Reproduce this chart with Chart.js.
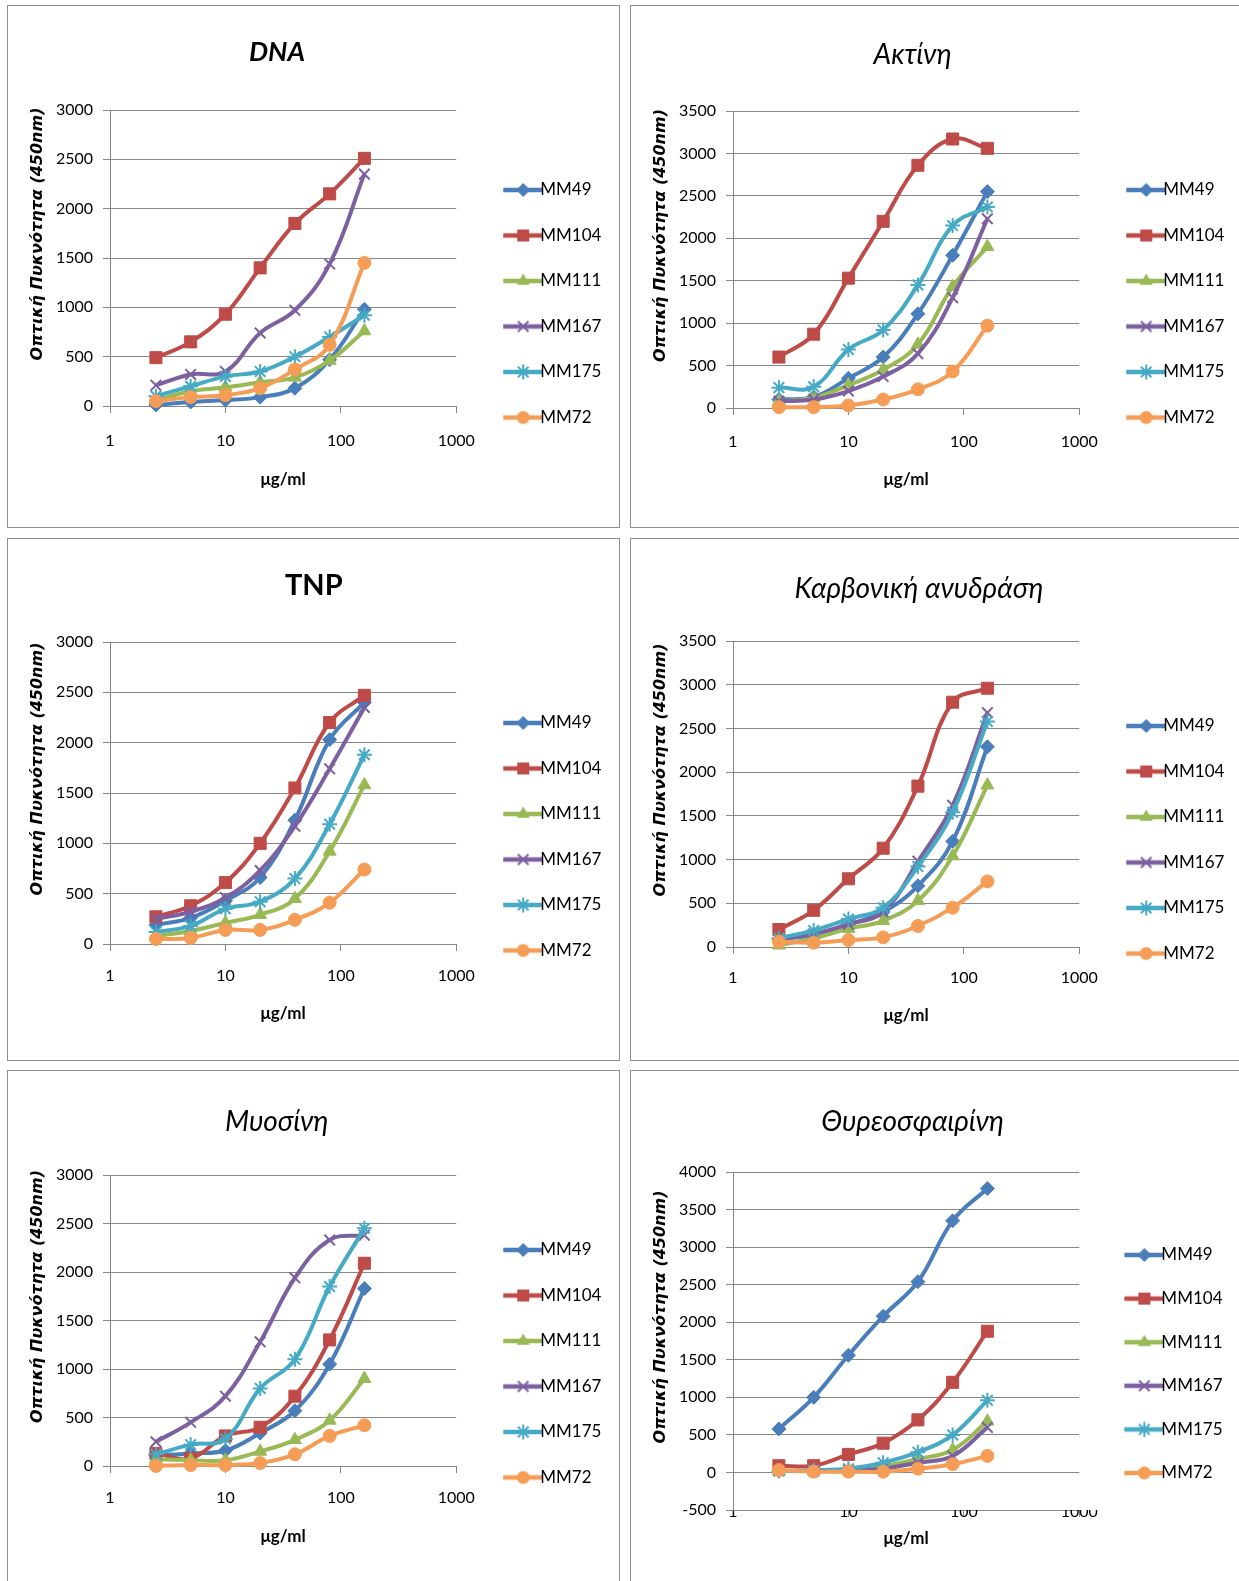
<!DOCTYPE html>
<html>
<head>
<meta charset="utf-8">
<script src="https://cdn.jsdelivr.net/npm/chart.js@4.4.1/dist/chart.umd.min.js"></script>
<style>
  body { margin: 0; background: #fff; width: 1239px; height: 1581px; position: relative; overflow: hidden; }
  canvas { position: absolute; }
  .frame { position: absolute; border: 1px solid #8f8f8f; box-sizing: border-box; pointer-events: none; }
</style>
</head>
<body>
<script>
// dose axis (μg/ml) and ticks
const doses = [2.5, 5, 10, 20, 40, 80, 160];
const xTicks = [1, 10, 100, 1000];
const seriesNames = ['MM49', 'MM104', 'MM111', 'MM167', 'MM175', 'MM72'];
const panelTitles = ['DNA', 'Ακτίνη', 'TNP', 'Καρβονική ανυδράση', 'Μυοσίνη', 'Θυρεοσφαιρίνη'];
const yTitle = 'Οπτική Πυκνότητα (450nm)';
const xTitle = 'μg/ml';
const yMin = [0, 0, 0, 0, 0, -500];
const yMax = [3000, 3500, 3000, 3500, 3000, 4000];

// one row per series, same order as seriesNames
const dnaValues = [
  [10, 40, 60, 90, 180, 470, 980],
  [490, 650, 930, 1400, 1850, 2150, 2510],
  [60, 150, 190, 240, 290, 460, 760],
  [210, 320, 350, 740, 970, 1440, 2350],
  [100, 200, 300, 350, 500, 700, 920],
  [50, 90, 110, 180, 370, 620, 1450]
];
const aktiniValues = [
  [100, 130, 350, 600, 1110, 1800, 2550],
  [600, 870, 1530, 2200, 2860, 3170, 3060],
  [80, 120, 270, 450, 750, 1430, 1900],
  [80, 100, 200, 370, 640, 1300, 2230],
  [240, 250, 690, 920, 1450, 2150, 2370],
  [10, 10, 30, 100, 220, 430, 970]
];
const tnpValues = [
  [190, 260, 430, 660, 1230, 2030, 2400],
  [270, 380, 610, 1000, 1550, 2200, 2470],
  [80, 130, 210, 290, 450, 920, 1580],
  [250, 320, 460, 730, 1170, 1740, 2350],
  [120, 180, 350, 420, 650, 1190, 1880],
  [50, 60, 140, 140, 240, 410, 740]
];
const karvValues = [
  [90, 140, 260, 400, 700, 1210, 2290],
  [200, 420, 780, 1130, 1840, 2800, 2960],
  [20, 100, 210, 300, 530, 1040, 1850],
  [90, 150, 260, 400, 980, 1620, 2680],
  [100, 190, 320, 450, 920, 1540, 2580],
  [60, 50, 80, 110, 240, 450, 750]
];
const myosiniValues = [
  [110, 130, 160, 340, 570, 1050, 1830],
  [130, 80, 310, 400, 720, 1300, 2090],
  [70, 60, 60, 150, 270, 470, 900],
  [250, 450, 720, 1280, 1940, 2330, 2380],
  [120, 220, 280, 800, 1100, 1850, 2450],
  [0, 10, 10, 30, 120, 310, 420]
];
const thyreoValues = [
  [580, 1000, 1560, 2080, 2540, 3350, 3780],
  [90, 90, 240, 390, 700, 1200, 1880],
  [20, 20, 30, 80, 180, 300, 680],
  [20, 20, 30, 50, 130, 220, 600],
  [20, 30, 50, 130, 270, 500, 960],
  [30, 10, 10, 10, 50, 110, 220]
];
const panelValues = [dnaValues, aktiniValues, tnpValues, karvValues, myosiniValues, thyreoValues];

// look
const colors = ['#4a7ebb', '#be4b48', '#98b954', '#7d60a0', '#46aac5', '#f59d56'];
const markers = ['rectRot', 'rect', 'triangle', 'crossRot', 'star', 'circle'];
const markerSize = [7, 8.5, 7.5, 7.5, 7.5, 6.5];
const font = 'Lato, sans-serif';
const gridColor = '#878787';

// layout of each panel (px, relative to the panel's top-left corner)
// shift: en spaces put before (+) or after (-) the title to nudge it sideways
const W = 612, H = 522;
const panels = [
  { left: 7,   top: 5,    plotTop: 105, plotBottom: 401, titleY: 47, legendY: 185, gap: 45.5, tickY: 436, xTitleY: 475, titleFull: false, bold: true,  italic: true,  size: 27, shift: -1 },
  { left: 630, top: 5,    plotTop: 106, plotBottom: 403, titleY: 50, legendY: 185, gap: 45.5, tickY: 437, xTitleY: 475, titleFull: false, bold: false, italic: true,  size: 28, shift: 1 },
  { left: 7,   top: 538,  plotTop: 104, plotBottom: 406, titleY: 48, legendY: 185, gap: 45.5, tickY: 438, xTitleY: 476, titleFull: true,  bold: true,  italic: false, size: 29, shift: 1 },
  { left: 630, top: 538,  plotTop: 103, plotBottom: 409, titleY: 51, legendY: 188, gap: 45.5, tickY: 440, xTitleY: 478, titleFull: false, bold: false, italic: true,  size: 28, shift: 2 },
  { left: 7,   top: 1070, plotTop: 105, plotBottom: 396, titleY: 52, legendY: 180, gap: 45.5, tickY: 428, xTitleY: 467, titleFull: false, bold: false, italic: true,  size: 28, shift: -1 },
  { left: 630, top: 1070, plotTop: 102, plotBottom: 440, titleY: 52, legendY: 185, gap: 43.6, tickY: 442, xTitleY: 469, titleFull: false, bold: false, italic: true,  size: 28, shift: 1 }
];

function drawMarker(g, style, x, y, r, color) {
  g.fillStyle = color;
  g.strokeStyle = color;
  g.lineWidth = 2;
  g.beginPath();
  if (style === 'rectRot') {
    g.moveTo(x, y - r); g.lineTo(x + r, y); g.lineTo(x, y + r); g.lineTo(x - r, y); g.closePath(); g.fill();
  } else if (style === 'rect') {
    const s = r * Math.SQRT1_2;
    g.rect(x - s, y - s, 2 * s, 2 * s); g.fill();
  } else if (style === 'triangle') {
    g.moveTo(x, y - r); g.lineTo(x + r * 0.866, y + r * 0.5); g.lineTo(x - r * 0.866, y + r * 0.5); g.closePath(); g.fill();
  } else if (style === 'circle') {
    g.arc(x, y, r, 0, Math.PI * 2); g.fill();
  } else {
    const d = r * Math.SQRT1_2;
    g.moveTo(x - d, y - d); g.lineTo(x + d, y + d);
    g.moveTo(x + d, y - d); g.lineTo(x - d, y + d);
    if (style === 'star') { g.moveTo(x, y - r); g.lineTo(x, y + r); g.moveTo(x - r, y); g.lineTo(x + r, y); }
    g.stroke();
  }
}

// legend symbol: line segment with the marker in the middle
const legendIcons = seriesNames.map((name, i) => {
  const c = document.createElement('canvas');
  c.width = 70; c.height = 20;
  const g = c.getContext('2d');
  g.strokeStyle = colors[i];
  g.lineWidth = 4.5;
  g.beginPath(); g.moveTo(30, 10); g.lineTo(70, 10); g.stroke();
  drawMarker(g, markers[i], 50, 10, markerSize[i], colors[i]);
  return c;
});

panels.forEach((p, k) => {
  const canvas = document.createElement('canvas');
  canvas.width = W; canvas.height = H;
  canvas.style.left = p.left + 'px';
  canvas.style.top = p.top + 'px';
  document.body.appendChild(canvas);
  const frame = document.createElement('div');
  frame.className = 'frame';
  Object.assign(frame.style, { left: p.left + 'px', top: p.top + 'px', width: (W + 1) + 'px', height: (H + 1) + 'px' });
  document.body.appendChild(frame);

  const titleLH = p.size * 1.2;
  const titleTop = p.titleY - titleLH / 2;
  const pad = '\u2002'.repeat(Math.abs(p.shift));
  const titleText = p.shift > 0 ? pad + panelTitles[k] : panelTitles[k] + pad;
  const legendFont = 17;
  const legendPad = p.gap - legendFont;
  const tickFont = 16, tickLen = 7;

  const datasets = seriesNames.map((name, i) => ({
    label: name,
    data: doses.map((d, j) => ({ x: d, y: panelValues[k][i][j] })),
    borderColor: colors[i],
    backgroundColor: colors[i],
    borderWidth: 4,
    tension: 0.4,
    pointStyle: markers[i],
    pointRadius: markerSize[i],
    pointBorderWidth: (markers[i] === 'crossRot' || markers[i] === 'star') ? 2 : 1,
    pointBackgroundColor: colors[i],
    pointBorderColor: colors[i],
    order: seriesNames.length - i,
    clip: 14
  }));

  new Chart(canvas, {
    type: 'line',
    data: { datasets },
    options: {
      responsive: false,
      animation: false,
      layout: { padding: { right: 13 } },
      plugins: {
        tooltip: { enabled: false },
        title: {
          display: true,
          text: titleText,
          fullSize: p.titleFull,
          color: '#000',
          font: { family: font, size: p.size, weight: p.bold ? 'bold' : 'normal', style: p.italic ? 'italic' : 'normal', lineHeight: 1.2 },
          padding: { top: titleTop, bottom: p.plotTop - titleTop - titleLH }
        },
        legend: {
          position: 'right',
          align: 'start',
          title: { display: true, text: ' ', font: { size: 10, lineHeight: 1.2 }, padding: { top: p.legendY - 12 - legendPad - legendFont / 2, bottom: 0 } },
          labels: {
            usePointStyle: true,
            pointStyleWidth: 47,
            padding: legendPad,
            color: '#000',
            font: { family: font, size: legendFont },
            sort: (a, b) => a.datasetIndex - b.datasetIndex,
            generateLabels: chart => Chart.defaults.plugins.legend.labels.generateLabels(chart)
              .map(item => Object.assign(item, { pointStyle: legendIcons[item.datasetIndex] }))
          }
        }
      },
      scales: {
        x: {
          type: 'logarithmic',
          min: 1,
          max: 1000,
          afterBuildTicks: s => { s.ticks = xTicks.map(v => ({ value: v })); },
          afterFit: s => { s.height = H - p.plotBottom; },
          ticks: {
            autoSkip: false, maxRotation: 0,
            color: '#000',
            font: { family: font, size: tickFont },
            padding: p.tickY - p.plotBottom - tickLen - tickFont * 0.6,
            callback: v => String(v)
          },
          grid: { drawOnChartArea: false, drawTicks: true, tickLength: tickLen, color: gridColor },
          border: { color: gridColor },
          title: {
            display: true, text: xTitle, color: '#000',
            font: { family: font, size: 17, weight: 'bold', lineHeight: 1.2 },
            padding: { top: 0, bottom: H - p.xTitleY - 10 }
          }
        },
        y: {
          min: yMin[k],
          max: yMax[k],
          afterFit: s => { s.width = 103; },
          ticks: {
            stepSize: 500,
            color: '#000',
            font: { family: font, size: tickFont },
            padding: 10,
            callback: v => String(v)
          },
          grid: { color: gridColor, tickLength: tickLen },
          border: { color: gridColor },
          title: {
            display: true, text: '\u2003\u2003\u2003' + yTitle, color: '#000',
            font: { family: 'DejaVu Sans', size: 16, weight: 'bold', style: 'italic', lineHeight: 1.2 },
            padding: { top: 21, bottom: 0 }
          }
        }
      }
    }
  });
});
</script>
</body>
</html>
